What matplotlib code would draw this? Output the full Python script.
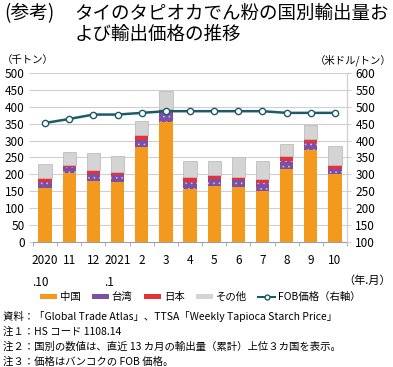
import matplotlib
matplotlib.use("Agg")
import matplotlib.pyplot as plt
from matplotlib.patches import Patch
from matplotlib.lines import Line2D
import numpy as np

plt.rcParams['font.family'] = ['Noto Sans CJK JP', 'DejaVu Sans']
plt.rcParams['hatch.linewidth'] = 0.5

labels = ["2020\n.10", "11", "12", "2021\n.1", "2", "3", "4", "5", "6", "7", "8", "9", "10"]
china = [160, 203, 179, 178, 282, 356, 157, 165, 162, 152, 217, 271, 201]
taiwan = [18, 20, 22, 19, 20, 29, 21, 21, 22, 21, 22, 21, 15]
japan = [10, 5, 13, 11, 13, 8, 13, 13, 9, 13, 14, 14, 11]
other = [43, 39, 48, 46, 44, 54, 48, 41, 58, 54, 37, 40, 57]
fob = [452, 464, 477, 477, 482, 487, 487, 487, 487, 487, 482, 482, 482]

c_china = '#F39A1E'
c_taiwan = '#7B4FA6'
c_japan = '#E53238'
c_other = '#D4D4D4'
c_line = '#1E5B68'
grid_c = '#CFCFCF'

fig = plt.figure(figsize=(3.93, 3.67), dpi=100)
ax = fig.add_axes([0.084, 0.341, 0.799, 0.460])
x = np.arange(len(labels))
w = 0.55
china_a = np.array(china); tw = np.array(taiwan); jp = np.array(japan); ot = np.array(other)
ax.bar(x, china_a, w, color=c_china, zorder=2)
ax.bar(x, tw, w, bottom=china_a, color=c_taiwan, edgecolor='#CDB8E3', linewidth=0, hatch='...', zorder=2)
ax.bar(x, jp, w, bottom=china_a + tw, color=c_japan, zorder=2)
ax.bar(x, ot, w, bottom=china_a + tw + jp, color=c_other, edgecolor='#BDBDBD', linewidth=0.6, zorder=2)

ax.set_xlim(-0.5, len(labels) - 0.5)
ax.set_ylim(0, 500)
ax.set_yticks(np.arange(0, 501, 50))
ax.yaxis.grid(True, color=grid_c, linewidth=0.8, zorder=0)
ax.set_axisbelow(True)
ax.set_xticks(x)
ax.set_xticklabels(labels, fontsize=8.5, linespacing=1.9, va='top', multialignment='left')
ax.tick_params(axis='x', length=0, pad=9)
ax.set_xticks(np.arange(-0.5, len(labels), 1), minor=True)
ax.tick_params(axis='x', which='minor', length=3, color='#A0A0A0', direction='out')
ax.tick_params(axis='y', length=3, color=grid_c, labelsize=8.5, pad=3)
for s in ['top', 'left']:
    ax.spines[s].set_visible(False)
ax.spines['bottom'].set_color('#A0A0A0')
ax.spines['right'].set_color(grid_c)

ax2 = ax.twinx()
ax2.set_ylim(100, 600)
ax2.set_yticks(np.arange(100, 601, 50))
ax2.plot(x, fob, color=c_line, linewidth=1.8, marker='o', markersize=4.5,
         markerfacecolor='white', markeredgecolor=c_line, markeredgewidth=1.0, zorder=5)
ax2.tick_params(axis='y', length=3, color=grid_c, labelsize=8.5, pad=3)
for s in ['top', 'left', 'bottom']:
    ax2.spines[s].set_visible(False)
ax2.spines['right'].set_color(grid_c)

fig.text(0.010, 0.962, '(参考)', fontsize=13.5, va='center', ha='left')
fig.text(0.19, 0.962, 'タイのタピオカでん粉の国別輸出量お', fontsize=13.3, va='center', ha='left')
fig.text(0.19, 0.905, 'よび輸出価格の推移', fontsize=13.3, va='center', ha='left')
fig.text(0.005, 0.836, '（千トン）', fontsize=7.5, va='center', ha='left')
fig.text(0.995, 0.836, '（米ドル/トン）', fontsize=7.5, va='center', ha='right')
fig.text(0.995, 0.234, '（年.月）', fontsize=8, va='center', ha='right')

handles = [Patch(facecolor=c_china), Patch(facecolor=c_taiwan), Patch(facecolor=c_japan),
           Patch(facecolor=c_other),
           Line2D([0], [0], color=c_line, linewidth=1.5, marker='o', markersize=3.5,
                  markerfacecolor='white', markeredgecolor=c_line)]
names = ['中国', '台湾', '日本', 'その他', 'FOB価格（右軸）']
fig.legend(handles, names, loc='center', bbox_to_anchor=(0.51, 0.19), ncol=5, frameon=False,
           fontsize=7.5, handlelength=1.6, handleheight=0.45, handletextpad=0.3,
           columnspacing=1.1, borderaxespad=0)

notes = ['資料：「Global Trade Atlas」、TTSA「Weekly Tapioca Starch Price」',
         '注１：HS コード 1108.14',
         '注２：国別の数値は、直近 13 カ月の輸出量（累計）上位３カ国を表示。',
         '注３：価格はバンコクの FOB 価格。']
ys = [316, 332, 347, 362]
for t, yy in zip(notes, ys):
    fig.text(0.008, 1 - yy / 367, t, fontsize=7.5, va='center', ha='left')

fig.savefig('out.png', dpi=100)
